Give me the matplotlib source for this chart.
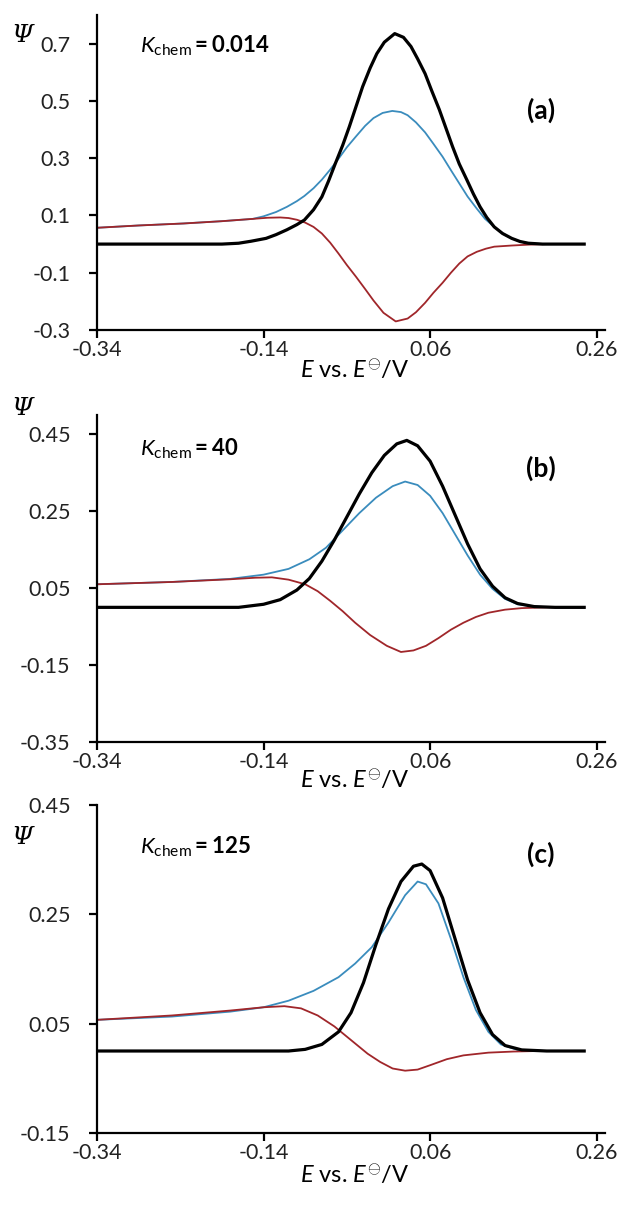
import matplotlib
matplotlib.use("Agg")
import matplotlib.pyplot as plt

plt.rcParams['font.family'] = ['Lato', 'DejaVu Sans']
plt.rcParams['mathtext.fontset'] = 'custom'
plt.rcParams['mathtext.rm'] = 'Lato'
plt.rcParams['mathtext.it'] = 'Lato:italic'
plt.rcParams['mathtext.bf'] = 'Lato:bold'

# ---------------- data ----------------
# panel (a)  K_chem = 0.014
a_black_E = [-0.34, -0.19, -0.17, -0.155, -0.137, -0.125, -0.112, -0.10, -0.091, -0.08, -0.07,
             -0.062, -0.054, -0.045, -0.037, -0.029, -0.021, -0.012, -0.004, 0.005, 0.0175,
             0.028, 0.037, 0.045, 0.054, 0.062, 0.071, 0.079, 0.087, 0.095, 0.104, 0.112,
             0.12, 0.128, 0.137, 0.147, 0.158, 0.168, 0.178, 0.195, 0.245]
a_black_P = [0.0, 0.0, 0.003, 0.01, 0.02, 0.033, 0.05, 0.068, 0.084, 0.12, 0.165,
             0.22, 0.28, 0.345, 0.41, 0.48, 0.55, 0.615, 0.665, 0.705, 0.735,
             0.722, 0.69, 0.647, 0.595, 0.535, 0.47, 0.405, 0.34, 0.28, 0.225, 0.175,
             0.13, 0.093, 0.06, 0.037, 0.02, 0.009, 0.003, 0.0, 0.0]
a_blue_E = [-0.34, -0.29, -0.236, -0.19, -0.153, -0.14, -0.125, -0.112, -0.10, -0.091, -0.08,
            -0.07, -0.06, -0.05, -0.04, -0.029, -0.018, -0.008, 0.003, 0.0146, 0.025, 0.033,
            0.043, 0.054, 0.064, 0.075, 0.085, 0.095, 0.105, 0.116, 0.126, 0.137, 0.147,
            0.158, 0.168, 0.178, 0.195, 0.245]
a_blue_P = [0.057, 0.065, 0.072, 0.08, 0.088, 0.097, 0.112, 0.13, 0.15, 0.168, 0.195,
            0.225, 0.26, 0.298, 0.338, 0.376, 0.413, 0.44, 0.458, 0.465, 0.461, 0.45,
            0.425, 0.39, 0.35, 0.305, 0.258, 0.212, 0.166, 0.124, 0.088, 0.06, 0.037,
            0.02, 0.009, 0.003, 0.0, 0.0]
a_red_E = [-0.34, -0.29, -0.236, -0.19, -0.153, -0.135, -0.12, -0.11, -0.10, -0.09, -0.08,
           -0.07, -0.06, -0.05, -0.04, -0.029, -0.018, -0.008, 0.004, 0.0187, 0.033, 0.043,
           0.054, 0.064, 0.075, 0.085, 0.095, 0.105, 0.116, 0.127, 0.137, 0.158, 0.178,
           0.20, 0.245]
a_red_P = [0.057, 0.065, 0.072, 0.08, 0.088, 0.092, 0.093, 0.091, 0.085, 0.075, 0.06,
           0.037, 0.005, -0.033, -0.073, -0.114, -0.157, -0.197, -0.24, -0.27, -0.26, -0.238,
           -0.205, -0.17, -0.135, -0.10, -0.068, -0.043, -0.027, -0.016, -0.009, -0.005, -0.002,
           0.0, 0.0]

# panel (b)  K_chem = 40
b_black_E = [-0.34, -0.17, -0.14, -0.12, -0.10, -0.085, -0.07, -0.055, -0.04, -0.025, -0.01,
             0.005, 0.02, 0.032, 0.045, 0.06, 0.075, 0.09, 0.105, 0.12, 0.135, 0.15, 0.165,
             0.185, 0.21, 0.245]
b_black_P = [0.0, 0.0, 0.008, 0.02, 0.045, 0.075, 0.12, 0.175, 0.235, 0.295, 0.35,
             0.395, 0.425, 0.434, 0.42, 0.38, 0.315, 0.24, 0.165, 0.10, 0.055, 0.025, 0.01,
             0.002, 0.0, 0.0]
b_blue_E = [-0.34, -0.25, -0.18, -0.14, -0.11, -0.085, -0.065, -0.045, -0.025, -0.005, 0.015,
            0.03, 0.045, 0.06, 0.075, 0.09, 0.105, 0.12, 0.135, 0.15, 0.165, 0.185, 0.21, 0.245]
b_blue_P = [0.06, 0.066, 0.074, 0.085, 0.10, 0.125, 0.155, 0.20, 0.245, 0.285, 0.315,
            0.327, 0.318, 0.29, 0.245, 0.19, 0.135, 0.085, 0.048, 0.022, 0.008, 0.002, 0.0, 0.0]
b_red_E = [-0.34, -0.25, -0.18, -0.15, -0.13, -0.11, -0.09, -0.075, -0.06, -0.045, -0.03,
           -0.012, 0.008, 0.025, 0.04, 0.055, 0.07, 0.085, 0.10, 0.115, 0.13, 0.15, 0.17, 0.20, 0.245]
b_red_P = [0.06, 0.066, 0.073, 0.077, 0.078, 0.072, 0.06, 0.042, 0.017, -0.01, -0.04,
           -0.072, -0.10, -0.116, -0.112, -0.10, -0.08, -0.058, -0.04, -0.025, -0.014, -0.006,
           -0.002, 0.0, 0.0]

# panel (c)  K_chem = 125
c_black_E = [-0.34, -0.11, -0.09, -0.07, -0.05, -0.035, -0.02, -0.005, 0.01, 0.025, 0.04,
             0.05, 0.06, 0.075, 0.09, 0.105, 0.12, 0.135, 0.15, 0.17, 0.20, 0.245]
c_black_P = [0.0, 0.0, 0.003, 0.012, 0.035, 0.07, 0.125, 0.195, 0.26, 0.31, 0.338,
             0.342, 0.33, 0.28, 0.205, 0.13, 0.07, 0.03, 0.01, 0.002, 0.0, 0.0]
c_blue_E = [-0.34, -0.25, -0.18, -0.14, -0.11, -0.08, -0.05, -0.03, -0.01, 0.01, 0.03, 0.045,
            0.055, 0.07, 0.085, 0.10, 0.115, 0.13, 0.145, 0.165, 0.20, 0.245]
c_blue_P = [0.057, 0.063, 0.072, 0.08, 0.092, 0.11, 0.135, 0.16, 0.19, 0.235, 0.285, 0.31,
            0.305, 0.27, 0.205, 0.135, 0.075, 0.035, 0.012, 0.002, 0.0, 0.0]
c_red_E = [-0.34, -0.25, -0.18, -0.14, -0.115, -0.095, -0.075, -0.055, -0.035, -0.015, 0.0,
           0.015, 0.03, 0.045, 0.06, 0.08, 0.10, 0.13, 0.16, 0.19, 0.245]
c_red_P = [0.057, 0.065, 0.074, 0.08, 0.082, 0.078, 0.065, 0.045, 0.02, -0.005, -0.02,
           -0.032, -0.036, -0.034, -0.026, -0.015, -0.008, -0.003, -0.001, 0.0, 0.0]

x_ticks = [-0.34, -0.14, 0.06, 0.26]
x_tick_labels = ['-0.34', '-0.14', '0.06', '0.26']
a_yticks = [-0.3, -0.1, 0.1, 0.3, 0.5, 0.7]
a_ylabels = ['-0.3', '-0.1', '0.1', '0.3', '0.5', '0.7']
b_yticks = [-0.35, -0.15, 0.05, 0.25, 0.45]
b_ylabels = ['-0.35', '-0.15', '0.05', '0.25', '0.45']
c_yticks = [-0.15, 0.05, 0.25, 0.45]
c_ylabels = ['-0.15', '0.05', '0.25', '0.45']
kchem = ['0.014', '40', '125']
panel_tags = ['(a)', '(b)', '(c)']

# ---------------- figure ----------------
W, H = 620, 1212
fig = plt.figure(figsize=(W / 100, H / 100), dpi=100)

def box(top, bottom, left=97, right=605):
    return [left / W, 1 - bottom / H, (right - left) / W, (bottom - top) / H]

BLACK = '#000000'
BLUE = '#3A8CBD'
RED = '#A0262A'

panels = [
    dict(rect=box(15, 330), ylim=(-0.3, 0.8), yt=a_yticks, yl=a_ylabels,
         k=(a_black_E, a_black_P), b=(a_blue_E, a_blue_P), r=(a_red_E, a_red_P),
         kpos=0.693, tagpos=0.468, psi_y=35, xlab_y=370),
    dict(rect=box(415, 742), ylim=(-0.35, 0.5), yt=b_yticks, yl=b_ylabels,
         k=(b_black_E, b_black_P), b=(b_blue_E, b_blue_P), r=(b_red_E, b_red_P),
         kpos=0.413, tagpos=0.361, psi_y=408, xlab_y=780),
    dict(rect=box(805, 1133), ylim=(-0.15, 0.45), yt=c_yticks, yl=c_ylabels,
         k=(c_black_E, c_black_P), b=(c_blue_E, c_blue_P), r=(c_red_E, c_red_P),
         kpos=0.373, tagpos=0.36, psi_y=838, xlab_y=1175),
]

for i, p in enumerate(panels):
    ax = fig.add_axes(p['rect'])
    ax.plot(*p['b'], color=BLUE, lw=1.3, zorder=2, solid_joinstyle='round')
    ax.plot(*p['r'], color=RED, lw=1.3, zorder=2, solid_joinstyle='round')
    ax.plot(*p['k'], color=BLACK, lw=2.3, zorder=3, solid_joinstyle='round')
    ax.set_xlim(-0.34, 0.27)
    ax.set_ylim(*p['ylim'])
    ax.set_xticks(x_ticks)
    ax.set_xticklabels(x_tick_labels)
    ax.set_yticks(p['yt'])
    ax.set_yticklabels(p['yl'])
    for s in ['top', 'right']:
        ax.spines[s].set_visible(False)
    for s in ['left', 'bottom']:
        ax.spines[s].set_linewidth(1.6)
    ax.tick_params(axis='both', direction='out', length=6, width=1.6,
                   labelsize=15.5, colors='black')
    ax.tick_params(axis='y', pad=13)
    ax.tick_params(axis='x', pad=1.5)
    for lab in ax.get_xticklabels() + ax.get_yticklabels():
        lab.set_color('#222222')
    ax.text(-0.288, p['kpos'],
            r'$\mathit{K}_{\mathrm{chem}}\mathbf{=' + kchem[i] + r'}$',
            fontsize=16, va='center', ha='left')
    ax.text(0.193, p['tagpos'], panel_tags[i], fontsize=19, fontweight='bold',
            va='center', ha='center')
    fig.text(22 / W, 1 - p['psi_y'] / H, 'Ψ', family='DejaVu Serif', style='italic',
             fontsize=18, va='center', ha='center')
    fig.text(355 / W, 1 - p['xlab_y'] / H,
             r'$\mathbf{\mathit{E}}$ vs. $\mathit{E}^{\ominus}$/V',
             fontsize=17, va='center', ha='center')

fig.savefig('out.png', dpi=100)
